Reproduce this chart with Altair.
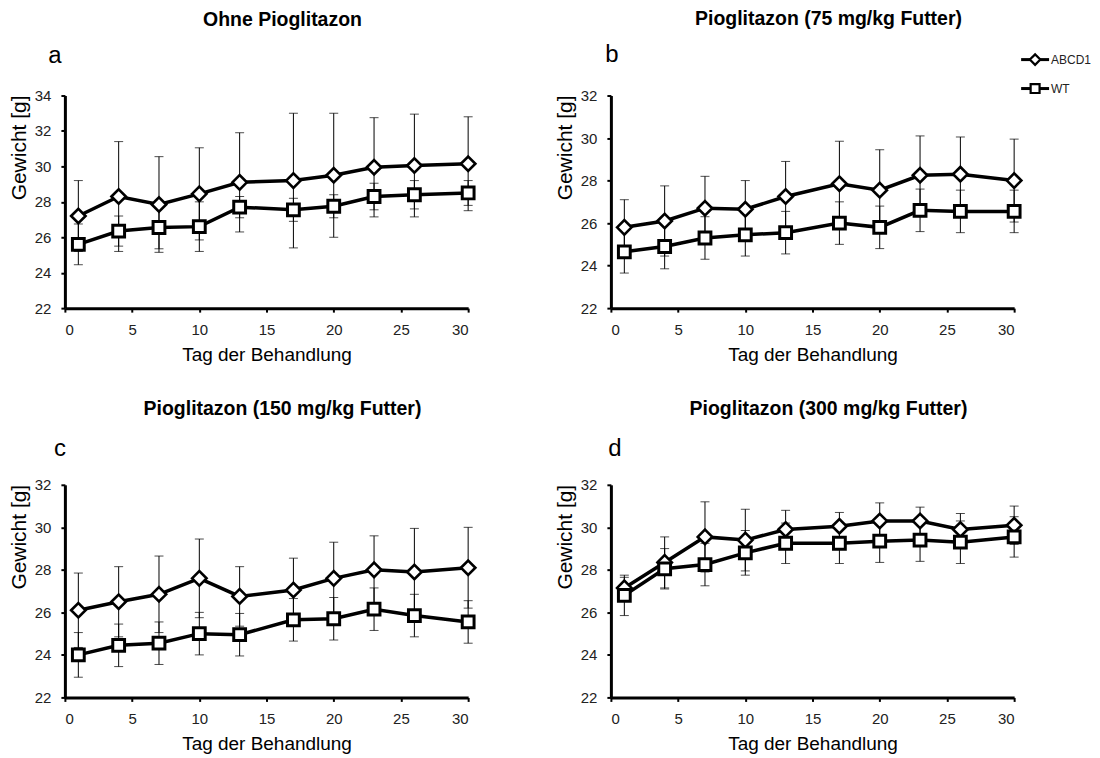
import altair as alt
import pandas as pd

# ---------------- data ----------------
days = [1, 4, 7, 10, 13, 17, 20, 23, 26, 30]
series_names = ["ABCD1", "WT"]

panel_titles = [
    "Ohne Pioglitazon",
    "Pioglitazon (75 mg/kg Futter)",
    "Pioglitazon (150 mg/kg Futter)",
    "Pioglitazon (300 mg/kg Futter)",
]
panel_letters = ["a", "b", "c", "d"]
y_max = [34, 32, 32, 32]
x_ticks = [0, 5, 10, 15, 20, 25, 30]

a_abcd1 = [27.2, 28.3, 27.85, 28.45, 29.1, 29.2, 29.5, 29.95, 30.05, 30.15]
a_abcd1_sd = [2.0, 3.1, 2.7, 2.6, 2.8, 3.8, 3.5, 2.8, 2.9, 2.65]
a_wt = [25.6, 26.35, 26.55, 26.6, 27.7, 27.55, 27.75, 28.3, 28.4, 28.5]
a_wt_sd = [1.15, 0.85, 1.2, 1.4, 0.6, 0.65, 0.65, 0.75, 0.8, 0.7]

b_abcd1 = [25.8, 26.1, 26.7, 26.65, 27.25, 27.85, 27.55, 28.25, 28.3, 28.0]
b_abcd1_sd = [1.3, 1.65, 1.5, 1.35, 1.65, 2.0, 1.9, 1.85, 1.75, 1.95]
b_wt = [24.65, 24.9, 25.3, 25.45, 25.55, 26.0, 25.8, 26.6, 26.55, 26.55]
b_wt_sd = [1.0, 1.05, 1.0, 1.0, 1.0, 1.0, 1.0, 1.0, 1.0, 1.0]

c_abcd1 = [26.1, 26.5, 26.85, 27.6, 26.75, 27.05, 27.6, 28.0, 27.9, 28.1]
c_abcd1_sd = [1.75, 1.65, 1.8, 1.85, 1.4, 1.5, 1.7, 1.6, 2.05, 1.9]
c_wt = [24.0, 24.45, 24.55, 25.0, 24.95, 25.65, 25.7, 26.15, 25.85, 25.55]
c_wt_sd = [1.05, 1.0, 1.0, 1.0, 1.0, 1.0, 1.0, 1.0, 1.0, 1.0]

d_abcd1 = [27.15, 28.35, 29.55, 29.4, 29.9, 30.05, 30.3, 30.3, 29.9, 30.1]
d_abcd1_sd = [0.5, 1.2, 1.65, 1.45, 0.9, 0.65, 0.85, 0.65, 0.75, 0.9]
d_wt = [26.8, 28.05, 28.25, 28.8, 29.25, 29.25, 29.35, 29.4, 29.3, 29.55]
d_wt_sd = [0.95, 0.95, 1.0, 1.05, 0.95, 0.95, 1.0, 1.0, 1.0, 0.95]

panels_data = [
    (a_abcd1, a_abcd1_sd, a_wt, a_wt_sd),
    (b_abcd1, b_abcd1_sd, b_wt, b_wt_sd),
    (c_abcd1, c_abcd1_sd, c_wt, c_wt_sd),
    (d_abcd1, d_abcd1_sd, d_wt, d_wt_sd),
]

FONT = "Liberation Sans"
W, H = 404, 213

# layout of panel letters (pixels relative to the plot area) and title offsets
letter_pos = [(-10, -40), (1, -41), (-5, -36), (4, -36)]
title_offset = [13, 13, 17, 17]


def make_df(ab, ab_sd, wt, wt_sd):
    rows = []
    for name, vals, sds in (("ABCD1", ab, ab_sd), ("WT", wt, wt_sd)):
        for d, v, s in zip(days, vals, sds):
            rows.append({"day": d, "w": v, "lo": v - s, "hi": v + s,
                         "series": name})
    return pd.DataFrame(rows)


shape_scale = alt.Scale(domain=series_names, range=["diamond", "square"])


def legend_layer():
    leg = alt.Chart(pd.DataFrame({"series": series_names}))
    ly = alt.Y("series:N", axis=None,
               scale=alt.Scale(type="point", domain=series_names,
                               range=[-36, -7], padding=0))
    seg = leg.mark_rule(color="black", strokeWidth=3).encode(
        x=alt.value(411), x2=alt.value(439), y=ly)
    sym = leg.mark_point(filled=False, fill="white", stroke="black",
                         strokeWidth=2.2, opacity=1).encode(
        x=alt.value(425), y=ly,
        shape=alt.Shape("series:N", scale=shape_scale, legend=None),
        size=alt.Size("series:N", scale=alt.Scale(domain=series_names,
                                                  range=[110, 80]),
                      legend=None))
    txt = leg.mark_text(align="left", baseline="middle", font=FONT,
                        fontSize=12, color="#222").encode(
        x=alt.value(441), y=ly, text="series:N")
    return alt.layer(seg, sym, txt)


def panel(i, show_legend=False):
    df = make_df(*panels_data[i])
    ymax = y_max[i]
    y_ticks = list(range(22, ymax + 1, 2))
    xs = alt.Scale(domain=[0, 30], nice=False)
    ys = alt.Scale(domain=[22, ymax], nice=False, zero=False)
    xaxis = alt.Axis(values=x_ticks, title="Tag der Behandlung",
                     titleFontSize=19)
    yaxis = alt.Axis(values=y_ticks, title="Gewicht [g]", titleX=-35,
                     titleY=52, titleAngle=-90, titleBaseline="bottom",
                     titleFontSize=21)
    base = alt.Chart(df)
    x = alt.X("day:Q", scale=xs, axis=xaxis)

    rules = base.mark_rule(color="black", strokeWidth=1).encode(
        x=x, y=alt.Y("lo:Q", scale=ys, axis=yaxis), y2="hi:Q")
    cap_hi = base.mark_tick(orient="horizontal", size=9, thickness=1,
                            color="black").encode(
        x=x, y=alt.Y("hi:Q", scale=ys, axis=yaxis))
    cap_lo = base.mark_tick(orient="horizontal", size=9, thickness=1,
                            color="black").encode(
        x=x, y=alt.Y("lo:Q", scale=ys, axis=yaxis))
    line = base.mark_line(color="black", strokeWidth=3.5).encode(
        x=x, y=alt.Y("w:Q", scale=ys, axis=yaxis), detail="series:N")

    pts_ab = base.transform_filter(alt.datum.series == "ABCD1").mark_point(
        shape="diamond", filled=False, fill="white", stroke="black",
        strokeWidth=2.6, size=210, opacity=1).encode(
        x=x, y=alt.Y("w:Q", scale=ys, axis=yaxis))
    pts_wt = base.transform_filter(alt.datum.series == "WT").mark_point(
        shape="square", filled=False, fill="white", stroke="black",
        strokeWidth=3, size=140, opacity=1).encode(
        x=x, y=alt.Y("w:Q", scale=ys, axis=yaxis))

    lx, ly = letter_pos[i]
    letter = alt.Chart(pd.DataFrame({"t": [panel_letters[i]]})).mark_text(
        font=FONT, fontSize=24, align="center", baseline="middle",
        color="black").encode(text="t:N", x=alt.value(lx), y=alt.value(ly))

    main = alt.layer(rules, cap_hi, cap_lo, line, pts_ab, pts_wt, letter)
    if show_legend:
        ch = alt.layer(main, legend_layer()).resolve_scale(y="independent")
    else:
        ch = main
    return ch.properties(
        width=W, height=H,
        title=alt.TitleParams(panel_titles[i], font=FONT, fontSize=19.5,
                              fontWeight="bold", color="black", anchor="middle",
                              frame="group", dx=16, offset=title_offset[i]),
    )


top = alt.hconcat(panel(0), panel(1, show_legend=True), spacing=73)
bottom = alt.hconcat(panel(2), panel(3), spacing=73)

chart = alt.vconcat(top, bottom, spacing=35).properties(
    padding={"left": 0, "top": 0, "right": 0, "bottom": 0}
).configure_view(stroke=None).configure_axis(
    domainColor="black", domainWidth=3, tickColor="black", tickWidth=2,
    tickSize=4, labelFont=FONT, labelFontSize=15, labelColor="#222",
    labelPadding=10, grid=False, titleFont=FONT,
    titleFontWeight="normal", titleColor="black", titlePadding=8,
)

chart.save("out.html", embed_options={"renderer": "svg", "actions": False})
